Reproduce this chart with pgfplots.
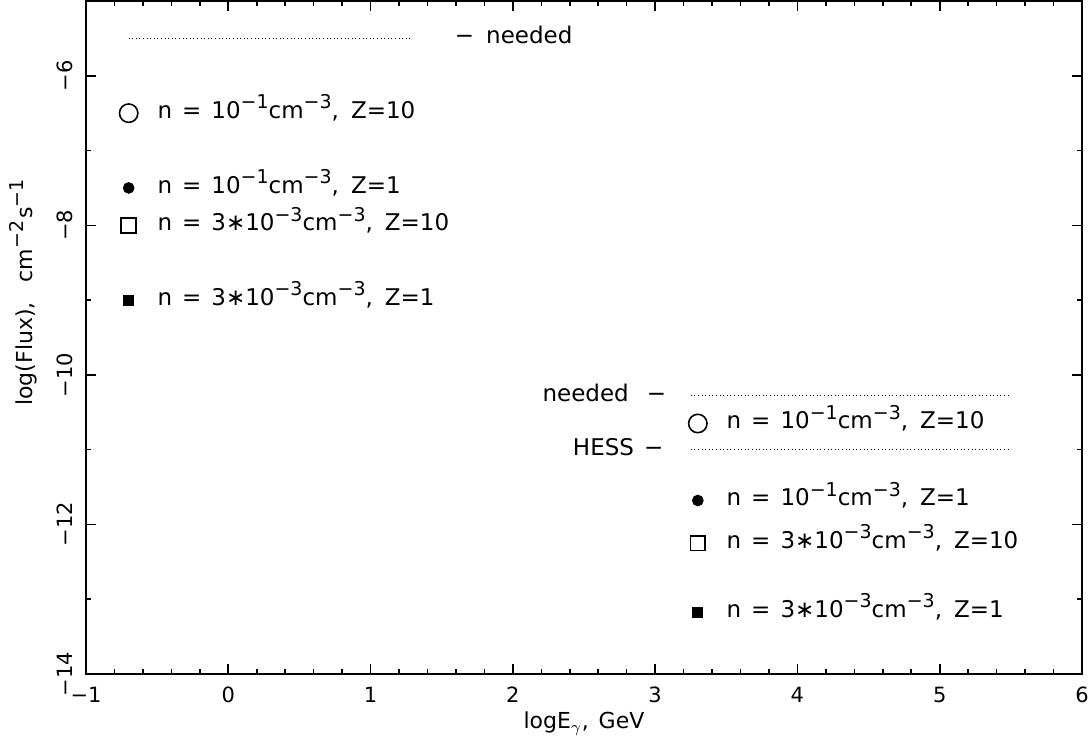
\documentclass[border=0pt]{standalone}
\usepackage{pgfplots}
\pgfplotsset{compat=1.18}
\usepackage{fontspec}
\setmainfont{DejaVu Sans}
\newcommand{\up}[1]{\raisebox{0.42em}{\fontsize{9.5}{10}\selectfont #1}}
% one label of the form  n = <dens>cm^-3, Z=<z>
\newcommand{\lab}[2]{n\hspace{5pt}=\hspace{5pt}#1cm\up{−3},\hspace{6pt}Z=#2}
\begin{document}
\begin{tikzpicture}
\begin{axis}[
  at={(0,0)}, anchor=south west,
  scale only axis,
  width=498pt, height=336.5pt,
  xmin=-1, xmax=6, ymin=-14, ymax=-5,
  xtick={-1,0,1,2,3,4,5,6},
  xticklabels={−1,0,1,2,3,4,5,6},
  ytick={-14,-12,-10,-8,-6},
  yticklabels={−14,−12,−10,−8,−6},
  minor x tick num=4,
  minor y tick num=1,
  tick align=inside,
  major tick length=5pt,
  minor tick length=2.5pt,
  axis line style={line width=0.9pt},
  every tick/.style={black, line width=0.8pt},
  ticklabel style={font=\fontsize{10.5}{12}\selectfont},
  xticklabel style={anchor=north, inner sep=0pt, yshift=-6.5pt},
  yticklabel style={rotate=90, anchor=south, inner xsep=0pt, inner ysep=6.5pt},
  every axis x label/.style={at={([yshift=-27.5pt]rel axis cs:0.5,0)}, anchor=base,
    font=\fontsize{11}{13}\selectfont},
  every axis y label/.style={at={([xshift=-26.5pt]rel axis cs:0,0.567)}, rotate=90, anchor=base,
    font=\fontsize{11}{13}\selectfont},
  xlabel={logE$_\gamma$,\hspace{5pt}GeV},
  ylabel={log(Flux),\hspace{10pt}cm\up{−2}\hspace{1pt}s\up{−1}},
  clip=false,
]
% dotted reference levels
\addplot[black, line width=0.6pt, dash pattern=on 0.5pt off 1.3pt] coordinates {(-0.70,-5.5) (1.28,-5.5)};
\addplot[black, line width=0.6pt, dash pattern=on 0.5pt off 1.3pt] coordinates {(3.25,-10.28) (5.5,-10.28)};
\addplot[black, line width=0.6pt, dash pattern=on 0.5pt off 1.3pt] coordinates {(3.25,-11.0) (5.5,-11.0)};

% model points
\addplot[only marks, mark=o, mark size=4.6pt, line width=0.8pt, black] coordinates {(-0.7,-6.5) (3.3,-10.65)};
\addplot[only marks, mark=*, mark size=2.7pt, black] coordinates {(-0.7,-7.5) (3.3,-11.68)};
\addplot[only marks, mark=square, mark size=3.7pt, line width=0.8pt, black] coordinates {(-0.7,-8.0) (3.3,-12.25)};
\addplot[only marks, mark=square*, mark size=2.5pt, black] coordinates {(-0.7,-9.0) (3.3,-13.17)};

\begin{scope}[every node/.style={font=\fontsize{11.5}{13}\selectfont, inner sep=0pt}]
\node[anchor=mid west] at (axis cs:1.59,-5.5) {−\hspace{6pt}needed};
\node[anchor=mid west] at (axis cs:-0.5,-6.5) {\lab{10\up{−1}}{10}};
\node[anchor=mid west] at (axis cs:-0.5,-7.5) {\lab{10\up{−1}}{1}};
\node[anchor=mid west] at (axis cs:-0.5,-8.0) {\lab{3∗10\up{−3}}{10}};
\node[anchor=mid west] at (axis cs:-0.5,-9.0) {\lab{3∗10\up{−3}}{1}};

\node[anchor=mid east] at (axis cs:3.08,-10.28) {needed\hspace{9pt}−};
\node[anchor=mid east] at (axis cs:3.06,-11.0) {HESS\hspace{5pt}−};
\node[anchor=mid west] at (axis cs:3.5,-10.65) {\lab{10\up{−1}}{10}};
\node[anchor=mid west] at (axis cs:3.5,-11.68) {\lab{10\up{−1}}{1}};
\node[anchor=mid west] at (axis cs:3.5,-12.25) {\lab{3∗10\up{−3}}{10}};
\node[anchor=mid west] at (axis cs:3.5,-13.17) {\lab{3∗10\up{−3}}{1}};
\end{scope}
\end{axis}
\pgfresetboundingbox
\path (-43pt,-35pt) rectangle (501.5pt,337pt);
\end{tikzpicture}
\end{document}
